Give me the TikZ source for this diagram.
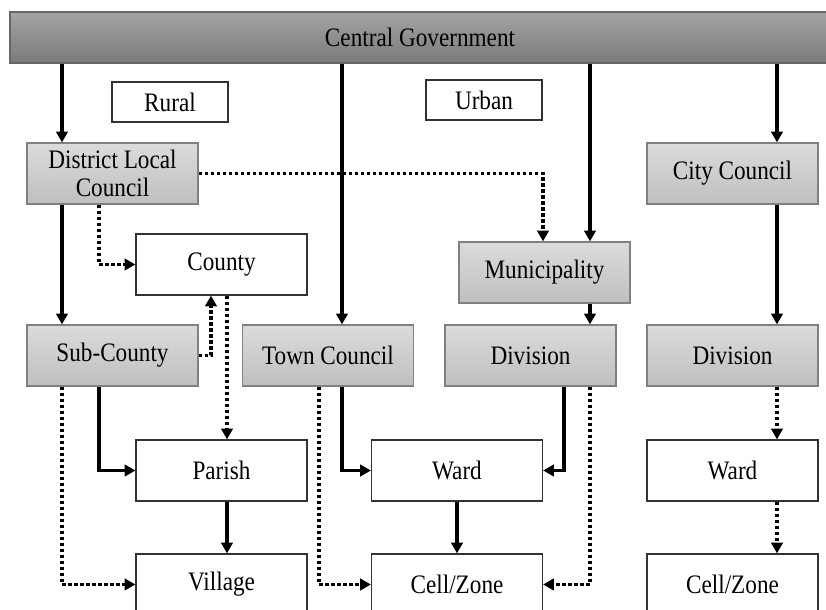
\documentclass[tikz,border=0pt]{standalone}
\usepackage{fontspec}
\setmainfont[FakeStretch=0.87]{Liberation Serif}
\usetikzlibrary{arrows.meta}

\tikzset{
  base/.style={draw, minimum width=128.25pt, minimum height=45.75pt, inner sep=2pt,
    align=center, font=\fontsize{20}{21}\selectfont},
  bar/.style={base, draw=black!60, line width=1pt, top color=black!36, bottom color=black!52},
  tier/.style={base, draw=black!50, line width=0.9pt, top color=gray!28, bottom color=gray!50},
  unit/.style={base, draw=black!80, line width=0.9pt, fill=white},
  tag/.style={unit, minimum width=87pt, minimum height=30pt},
  link/.style={line width=2.8pt, -{Triangle[length=8pt,width=8.5pt]}},
  dotlink/.style={link, dash pattern=on 2.6pt off 1.9pt},
}

\begin{document}
\begin{tikzpicture}[x=0.75pt, y=-0.75pt]
  \useasboundingbox (0,0) rectangle (826,610);

  % top of the tree
  \node[bar, minimum width=615pt, minimum height=38.25pt] (cgov) at (420,37.5) {Central Government};
  \node[tag] (rural) at (170,102) {Rural};
  \node[tag] (urban) at (484,100) {Urban};

  % councils
  \node[tier] (dlc) at (112.5,173.5) {District Local\\Council};
  \node[tier] (city) at (732.5,173.5) {City Council};
  \node[unit] (county) at (221.5,264.5) {County};
  \node[tier] (muni) at (544.5,272.5) {Municipality};

  % lower levels
  \node[tier] (subc) at (112.5,355.5) {Sub-County};
  \node[tier] (town) at (328,355.5) {Town Council};
  \node[tier] (divu) at (530.5,355.5) {Division};
  \node[tier] (divc) at (732.5,355.5) {Division};
  \node[unit] (parish) at (221.5,470.5) {Parish};
  \node[unit] (wardu) at (457,470.5) {Ward};
  \node[unit] (wardc) at (732.5,470.5) {Ward};
  \node[unit] (village) at (221.5,584.5) {Village};
  \node[unit] (cellu) at (457,584.5) {Cell/Zone};
  \node[unit] (cellc) at (732.5,584.5) {Cell/Zone};

  % columns of the connectors
  \coordinate (xa) at (62,0);
  \coordinate (xb) at (99,0);
  \coordinate (xc) at (211,0);
  \coordinate (xd) at (227,0);
  \coordinate (xe) at (319,0);
  \coordinate (xf) at (342,0);
  \coordinate (xh) at (543,0);
  \coordinate (xi) at (564,0);
  \coordinate (xj) at (590,0);
  \coordinate (xk) at (777,0);

  % dotted links
  \draw[dotlink] (dlc.east) -| (muni.north -| xh);
  \draw[dotlink] (dlc.south -| xb) |- (county.west);
  \draw[dotlink] (subc.east) -| (county.south -| xc);
  \draw[dotlink] (county.south -| xd) -- (parish.north -| xd);
  \draw[dotlink] (subc.south -| xa) |- (village.west);
  \draw[dotlink] (town.south -| xe) |- (cellu.west);
  \draw[dotlink] (divu.south -| xj) |- (cellu.east);
  \draw[dotlink] (divc.south -| xk) -- (wardc.north -| xk);
  \draw[dotlink] (wardc.south -| xk) -- (cellc.north -| xk);

  % solid links
  \draw[link] (cgov.south -| xa) -- (dlc.north -| xa);
  \draw[link] (cgov.south -| xf) -- (town.north -| xf);
  \draw[link] (cgov.south -| xj) -- (muni.north -| xj);
  \draw[link] (cgov.south -| xk) -- (city.north -| xk);
  \draw[link] (dlc.south -| xa) -- (subc.north -| xa);
  \draw[link] (muni.south -| xj) -- (divu.north -| xj);
  \draw[link] (city.south -| xk) -- (divc.north -| xk);
  \draw[link] (subc.south -| xb) |- (parish.west);
  \draw[link] (parish.south -| xd) -- (village.north -| xd);
  \draw[link] (town.south -| xf) |- (wardu.west);
  \draw[link] (divu.south -| xi) |- (wardu.east);
  \draw[link] (wardu) -- (cellu);
\end{tikzpicture}
\end{document}
